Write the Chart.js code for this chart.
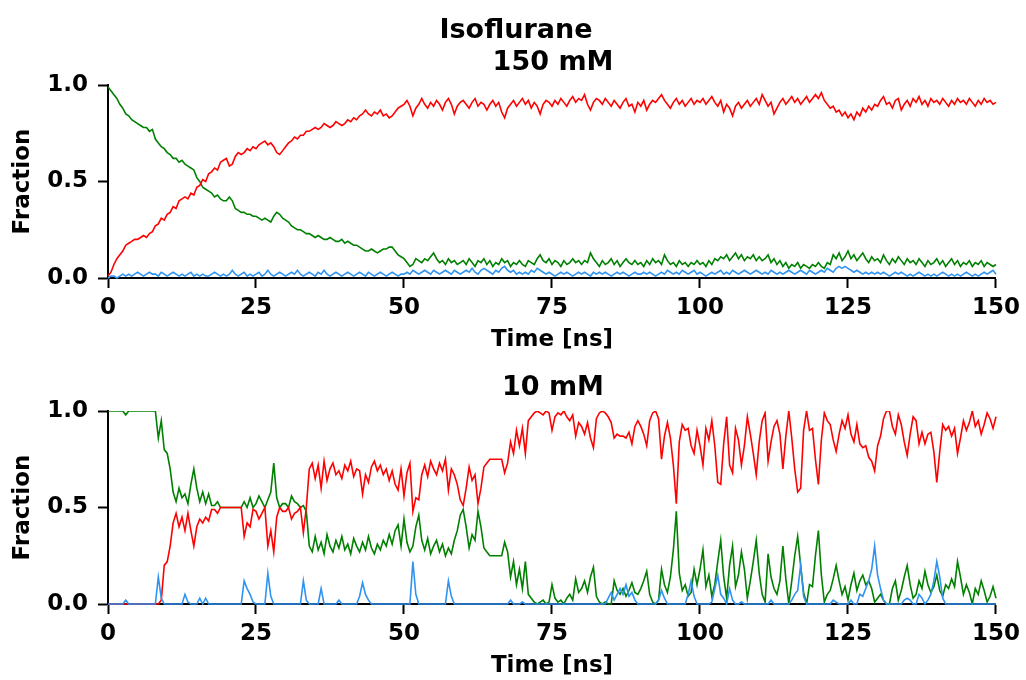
<!DOCTYPE html>
<html>
<head>
<meta charset="utf-8">
<script src="https://cdn.jsdelivr.net/npm/chart.js@4.4.1/dist/chart.umd.min.js"></script>
<style>
  html, body { margin: 0; padding: 0; background: #fff; }
  #fig { position: relative; width: 1026px; height: 680px; overflow: hidden; }
  #fig canvas { position: absolute; left: 0; }
  .ttl { position: absolute; font-family: 'DejaVu Sans', sans-serif; font-weight: bold;
         font-size: 27px; line-height: 27px; color: #000; white-space: nowrap; transform: translateX(-50%); }
</style>
</head>
<body>
<div id="fig">
  <canvas id="top-panel" width="1026" height="354" style="top:0"></canvas>
  <canvas id="bottom-panel" width="1026" height="354" style="top:326px"></canvas>
  <div class="ttl" style="left:516px; top:15px;">Isoflurane</div>
  <div class="ttl" style="left:553px; top:47px;">150 mM</div>
  <div class="ttl" style="left:553px; top:372px;">10 mM</div>
</div>
<script>
// fraction time series, one sample every 0.5 ns from 0 to 150 ns
const STEP_NS = 0.5;
const X_TICKS = [0, 25, 50, 75, 100, 125, 150];
const Y_TICKS = [0, 0.5, 1.0];

// ---- 150 mM ----
const red150 = [
  0.01,0.03,0.07,0.10,0.12,0.14,0.17,0.18,0.19,0.20,0.20,0.21,0.22,0.21,0.23,0.24,0.27,0.28,0.31,0.30,
  0.33,0.34,0.37,0.36,0.40,0.41,0.42,0.41,0.44,0.43,0.47,0.48,0.51,0.50,0.54,0.55,0.57,0.56,0.60,0.61,
  0.62,0.58,0.59,0.63,0.65,0.64,0.65,0.67,0.66,0.68,0.67,0.69,0.70,0.71,0.69,0.70,0.68,0.65,0.64,0.66,
  0.68,0.70,0.71,0.73,0.72,0.74,0.74,0.76,0.76,0.77,0.78,0.77,0.78,0.80,0.79,0.78,0.79,0.81,0.80,0.79,
  0.80,0.82,0.81,0.83,0.82,0.84,0.85,0.87,0.85,0.84,0.86,0.85,0.87,0.84,0.85,0.83,0.84,0.86,0.88,0.89,
  0.90,0.92,0.89,0.84,0.88,0.90,0.93,0.90,0.88,0.91,0.89,0.92,0.90,0.87,0.91,0.93,0.90,0.85,0.89,0.91,
  0.92,0.90,0.88,0.91,0.93,0.89,0.91,0.90,0.87,0.90,0.92,0.89,0.91,0.86,0.83,0.88,0.90,0.92,0.89,0.91,
  0.93,0.90,0.92,0.88,0.91,0.89,0.85,0.90,0.92,0.91,0.89,0.92,0.90,0.93,0.91,0.89,0.92,0.94,0.91,0.93,
  0.92,0.95,0.90,0.87,0.91,0.93,0.92,0.90,0.93,0.91,0.89,0.92,0.90,0.88,0.91,0.93,0.89,0.90,0.86,0.91,
  0.89,0.92,0.87,0.90,0.92,0.91,0.93,0.95,0.92,0.90,0.88,0.91,0.93,0.90,0.92,0.89,0.91,0.93,0.90,0.92,
  0.91,0.93,0.90,0.92,0.94,0.91,0.89,0.92,0.86,0.90,0.88,0.84,0.89,0.91,0.88,0.90,0.92,0.89,0.91,0.93,
  0.90,0.95,0.92,0.89,0.91,0.85,0.88,0.91,0.93,0.90,0.92,0.94,0.91,0.93,0.90,0.92,0.94,0.91,0.93,0.95,
  0.93,0.96,0.92,0.90,0.88,0.89,0.86,0.87,0.84,0.86,0.83,0.85,0.82,0.86,0.84,0.88,0.86,0.89,0.87,0.90,
  0.89,0.92,0.94,0.90,0.91,0.88,0.92,0.93,0.87,0.90,0.92,0.89,0.93,0.91,0.94,0.90,0.92,0.89,0.93,0.91,
  0.92,0.90,0.93,0.91,0.89,0.92,0.90,0.93,0.91,0.92,0.90,0.93,0.91,0.89,0.92,0.90,0.93,0.91,0.92,0.90,
  0.91
];
const green150 = [
  0.99,0.97,0.95,0.93,0.90,0.88,0.85,0.84,0.82,0.81,0.80,0.79,0.78,0.78,0.76,0.77,0.72,0.70,0.68,0.67,
  0.65,0.64,0.62,0.62,0.60,0.61,0.59,0.58,0.57,0.56,0.52,0.50,0.47,0.46,0.45,0.44,0.42,0.43,0.41,0.40,
  0.40,0.42,0.40,0.36,0.35,0.34,0.34,0.33,0.33,0.32,0.32,0.31,0.30,0.31,0.30,0.29,0.32,0.34,0.33,0.31,
  0.30,0.29,0.27,0.26,0.25,0.25,0.24,0.23,0.23,0.22,0.21,0.22,0.21,0.20,0.20,0.21,0.20,0.19,0.19,0.20,
  0.18,0.19,0.18,0.17,0.17,0.16,0.15,0.14,0.14,0.15,0.14,0.13,0.14,0.15,0.15,0.16,0.16,0.14,0.12,0.11,
  0.10,0.08,0.06,0.07,0.10,0.09,0.08,0.10,0.09,0.11,0.13,0.10,0.08,0.09,0.07,0.10,0.08,0.09,0.07,0.08,
  0.09,0.07,0.10,0.08,0.06,0.09,0.08,0.10,0.07,0.09,0.06,0.08,0.07,0.10,0.08,0.09,0.06,0.08,0.07,0.09,
  0.07,0.06,0.09,0.08,0.07,0.10,0.12,0.09,0.08,0.10,0.07,0.09,0.08,0.06,0.09,0.07,0.08,0.10,0.08,0.09,
  0.07,0.09,0.08,0.13,0.10,0.08,0.06,0.09,0.07,0.08,0.10,0.07,0.09,0.06,0.08,0.10,0.08,0.07,0.09,0.07,
  0.08,0.06,0.09,0.07,0.10,0.08,0.09,0.07,0.12,0.09,0.07,0.08,0.06,0.09,0.07,0.08,0.06,0.08,0.07,0.09,
  0.07,0.08,0.06,0.09,0.07,0.10,0.09,0.11,0.10,0.12,0.09,0.11,0.13,0.10,0.12,0.09,0.11,0.10,0.12,0.09,
  0.11,0.09,0.10,0.12,0.08,0.10,0.07,0.09,0.06,0.08,0.05,0.07,0.06,0.08,0.05,0.07,0.06,0.05,0.07,0.06,
  0.08,0.06,0.05,0.08,0.07,0.12,0.10,0.13,0.09,0.11,0.14,0.10,0.12,0.09,0.11,0.13,0.10,0.08,0.11,0.09,
  0.10,0.08,0.12,0.09,0.07,0.10,0.08,0.11,0.09,0.07,0.10,0.08,0.09,0.07,0.10,0.08,0.06,0.09,0.07,0.08,
  0.10,0.07,0.09,0.06,0.08,0.10,0.07,0.09,0.06,0.08,0.07,0.09,0.06,0.08,0.07,0.09,0.06,0.08,0.07,0.06,
  0.07
];
const blue150 = [
  0.00,0.01,0.01,0.00,0.01,0.02,0.01,0.02,0.01,0.02,0.03,0.02,0.01,0.02,0.03,0.02,0.02,0.01,0.03,0.02,
  0.01,0.02,0.03,0.02,0.01,0.02,0.01,0.02,0.03,0.01,0.02,0.01,0.02,0.01,0.01,0.02,0.03,0.02,0.01,0.02,
  0.01,0.02,0.04,0.02,0.01,0.02,0.03,0.01,0.02,0.01,0.02,0.03,0.01,0.02,0.04,0.02,0.01,0.02,0.03,0.02,
  0.01,0.02,0.03,0.02,0.04,0.02,0.01,0.02,0.03,0.02,0.01,0.03,0.02,0.04,0.02,0.01,0.02,0.03,0.02,0.01,
  0.02,0.03,0.02,0.01,0.02,0.03,0.02,0.01,0.03,0.02,0.01,0.02,0.03,0.02,0.01,0.02,0.03,0.02,0.01,0.02,
  0.02,0.03,0.02,0.04,0.03,0.02,0.03,0.04,0.03,0.02,0.04,0.03,0.02,0.03,0.04,0.03,0.02,0.04,0.03,0.02,
  0.03,0.04,0.03,0.05,0.03,0.02,0.04,0.05,0.04,0.03,0.02,0.04,0.03,0.05,0.06,0.04,0.03,0.04,0.02,0.03,
  0.02,0.03,0.02,0.04,0.03,0.05,0.04,0.03,0.02,0.03,0.02,0.01,0.02,0.03,0.02,0.03,0.02,0.01,0.02,0.03,
  0.02,0.03,0.02,0.01,0.03,0.02,0.03,0.02,0.03,0.02,0.01,0.02,0.03,0.02,0.03,0.02,0.01,0.02,0.03,0.02,
  0.02,0.03,0.02,0.03,0.02,0.01,0.02,0.03,0.02,0.04,0.03,0.02,0.03,0.02,0.04,0.03,0.02,0.03,0.04,0.02,
  0.03,0.02,0.01,0.02,0.03,0.02,0.03,0.04,0.02,0.03,0.02,0.04,0.03,0.02,0.03,0.04,0.03,0.02,0.03,0.04,
  0.03,0.02,0.03,0.02,0.04,0.03,0.02,0.03,0.02,0.03,0.04,0.03,0.02,0.03,0.04,0.03,0.02,0.04,0.03,0.02,
  0.03,0.04,0.03,0.05,0.04,0.03,0.05,0.06,0.05,0.06,0.05,0.04,0.03,0.04,0.03,0.02,0.03,0.02,0.03,0.02,
  0.03,0.02,0.03,0.02,0.01,0.02,0.03,0.02,0.03,0.02,0.01,0.02,0.01,0.02,0.03,0.02,0.01,0.02,0.01,0.02,
  0.01,0.02,0.03,0.02,0.01,0.02,0.01,0.02,0.01,0.02,0.03,0.02,0.01,0.02,0.01,0.02,0.03,0.02,0.03,0.04,
  0.02
];

// ---- 10 mM ----
const red10 = [
  0,0,0,0,0,0,0,0,0,0,0,0,0,0,0,0,0,0,0.02,0.20,
  0.22,0.30,0.42,0.47,0.40,0.45,0.38,0.47,0.38,0.30,0.40,0.44,0.42,0.45,0.43,0.49,0.49,0.47,0.50,0.50,
  0.50,0.50,0.50,0.50,0.50,0.50,0.35,0.42,0.40,0.49,0.48,0.44,0.47,0.50,0.30,0.38,0.27,0.45,0.50,0.48,
  0.48,0.50,0.44,0.47,0.48,0.50,0.37,0.50,0.70,0.73,0.65,0.72,0.60,0.74,0.64,0.70,0.73,0.67,0.69,0.65,
  0.72,0.69,0.74,0.66,0.70,0.69,0.57,0.67,0.63,0.71,0.74,0.69,0.72,0.67,0.70,0.64,0.69,0.62,0.59,0.70,
  0.56,0.68,0.73,0.48,0.55,0.54,0.67,0.72,0.66,0.74,0.70,0.67,0.73,0.69,0.75,0.59,0.70,0.67,0.62,0.54,
  0.51,0.60,0.71,0.64,0.67,0.52,0.60,0.71,0.73,0.75,0.75,0.75,0.75,0.75,0.68,0.73,0.84,0.78,0.90,0.82,
  0.91,0.78,0.95,0.97,0.99,1.00,0.99,0.98,1.00,0.99,0.90,0.97,0.99,0.98,1.00,0.97,0.95,0.98,0.87,0.94,
  0.92,0.88,0.94,0.86,0.81,0.96,0.99,1.00,0.99,0.97,0.94,0.86,0.88,0.87,0.87,0.86,0.89,0.83,0.92,0.95,
  0.92,0.88,0.82,0.95,0.99,1.00,0.96,0.75,0.87,0.94,0.86,0.72,0.52,0.84,0.93,0.90,0.91,0.82,0.78,0.90,
  0.82,0.72,0.91,0.85,0.95,0.82,0.63,0.62,0.83,0.97,0.72,0.68,0.91,0.85,0.72,0.82,0.97,0.88,0.78,0.67,
  0.84,0.95,0.99,0.74,0.84,0.92,0.95,0.88,0.70,0.87,1.00,0.86,0.70,0.58,0.60,0.90,1.00,0.90,0.91,0.75,
  0.62,0.85,0.99,0.95,0.93,0.85,0.79,0.88,0.95,0.91,0.98,0.88,0.84,0.93,0.83,0.81,0.82,0.76,0.74,0.69,
  0.82,0.87,0.96,1.00,1.00,0.92,0.88,0.98,0.93,0.84,0.77,0.88,0.97,0.95,0.83,0.89,0.83,0.88,0.89,0.79,
  0.63,0.79,0.93,0.90,0.92,0.87,0.91,0.78,0.86,0.95,0.90,0.94,1.00,0.92,0.95,0.88,0.93,0.99,0.96,0.91,
  0.97
];
const green10 = [
  1,1,1,1,1,1,0.98,1,1,1,1,1,1,1,1,1,1,0.86,0.95,0.80,
  0.78,0.70,0.58,0.53,0.60,0.55,0.57,0.52,0.62,0.70,0.60,0.53,0.58,0.52,0.57,0.51,0.51,0.53,0.50,0.50,
  0.50,0.50,0.50,0.50,0.50,0.50,0.53,0.50,0.55,0.50,0.52,0.56,0.53,0.50,0.54,0.58,0.73,0.55,0.50,0.52,
  0.52,0.50,0.56,0.53,0.52,0.50,0.51,0.48,0.30,0.27,0.35,0.28,0.32,0.26,0.36,0.30,0.27,0.33,0.29,0.35,
  0.28,0.31,0.26,0.34,0.30,0.27,0.32,0.28,0.35,0.29,0.26,0.31,0.28,0.33,0.30,0.36,0.31,0.38,0.41,0.30,
  0.44,0.32,0.27,0.30,0.40,0.46,0.33,0.28,0.34,0.26,0.30,0.33,0.27,0.31,0.25,0.29,0.26,0.33,0.38,0.46,
  0.49,0.40,0.29,0.36,0.33,0.48,0.40,0.29,0.27,0.25,0.25,0.25,0.25,0.25,0.32,0.27,0.14,0.22,0.10,0.18,
  0.08,0.22,0.05,0.03,0.01,0.00,0.01,0.02,0.00,0.01,0.10,0.03,0.01,0.02,0.00,0.03,0.05,0.02,0.13,0.06,
  0.08,0.12,0.06,0.14,0.19,0.04,0.01,0.00,0.01,0.00,0.00,0.12,0.07,0.05,0.08,0.04,0.07,0.11,0.06,0.05,
  0.08,0.12,0.17,0.05,0.01,0.00,0.02,0.18,0.10,0.06,0.14,0.28,0.48,0.16,0.07,0.10,0.04,0.06,0.18,0.10,
  0.18,0.28,0.09,0.15,0.04,0.10,0.22,0.33,0.14,0.03,0.20,0.30,0.09,0.15,0.27,0.18,0.03,0.12,0.22,0.33,
  0.16,0.05,0.01,0.26,0.14,0.08,0.05,0.12,0.30,0.13,0.00,0.12,0.25,0.35,0.20,0.06,0.00,0.10,0.09,0.25,
  0.38,0.15,0.01,0.05,0.07,0.13,0.20,0.12,0.05,0.09,0.02,0.10,0.16,0.07,0.12,0.15,0.10,0.12,0.08,0.01,
  0.03,0.05,0.02,0.00,0.00,0.08,0.12,0.02,0.07,0.14,0.20,0.10,0.03,0.05,0.12,0.08,0.17,0.10,0.06,0.09,
  0.15,0.07,0.04,0.10,0.08,0.13,0.09,0.22,0.14,0.05,0.10,0.06,0.00,0.08,0.05,0.12,0.07,0.01,0.04,0.09,
  0.03
];
const blue10 = [
  0,0,0,0,0,0,0.02,0,0,0,0,0,0,0,0,0,0,0.14,0.03,0,
  0,0,0,0,0,0,0.05,0.01,0,0,0,0.03,0,0.03,0,0,0,0,0,0,
  0,0,0,0,0,0,0.12,0.08,0.05,0.01,0,0,0,0,0.16,0.04,0,0,0,0,
  0,0,0,0,0,0,0.12,0.02,0,0,0,0,0.08,0,0,0,0,0,0.02,0,
  0,0,0,0,0,0.04,0.11,0.05,0.02,0,0,0,0,0,0,0,0,0,0,0,
  0,0,0,0.22,0.05,0,0,0,0,0,0,0,0,0,0,0.12,0.04,0,0,0,
  0,0,0,0,0,0,0,0,0,0,0,0,0,0,0,0,0.02,0,0,0,
  0.01,0,0,0,0,0,0,0,0,0,0,0,0,0,0,0,0,0,0,0,
  0,0,0,0,0,0,0,0,0,0.03,0.06,0.02,0.05,0.08,0.05,0.10,0.04,0.06,0.02,0,
  0,0,0,0,0,0,0.02,0.07,0.03,0,0,0,0,0,0,0,0.05,0.12,0.04,0,
  0,0,0,0,0.01,0.08,0.15,0.05,0.03,0,0.08,0.02,0,0,0.01,0,0,0,0,0,
  0,0,0,0,0.02,0,0,0,0,0,0,0.02,0.05,0.07,0.20,0.04,0,0,0,0,
  0,0,0,0,0,0.02,0.01,0,0,0,0,0.02,0,0,0.05,0.04,0.08,0.12,0.18,0.30,
  0.15,0.08,0.02,0,0,0,0,0,0,0.02,0.03,0.02,0,0,0.05,0.03,0,0.02,0.05,0.12,
  0.22,0.14,0.03,0,0,0,0,0,0,0,0,0,0,0,0,0,0,0,0,0,
  0
];

const RED = '#ff0000';
const GREEN = '#008000';
const BLUE = '#2f93f2';

Chart.defaults.font.family = "'DejaVu Sans', sans-serif";
Chart.defaults.font.weight = 'bold';
Chart.defaults.color = '#000';

function toPoints(values) {
  return values.map((y, i) => ({ x: i * STEP_NS, y: y }));
}

function series(values, color) {
  return {
    data: toPoints(values),
    borderColor: color,
    borderWidth: 1.6,
    pointRadius: 0,
    tension: 0,
    fill: false,
    // cut at the top edge like the axes box, a little slack elsewhere
    clip: { left: 3, right: 3, top: 0, bottom: 1 }
  };
}

function makePanel(canvasId, red, green, blue) {
  const ctx = document.getElementById(canvasId);
  return new Chart(ctx, {
    type: 'line',
    data: {
      // first dataset ends up on top: blue over red over green
      datasets: [series(blue, BLUE), series(red, RED), series(green, GREEN)]
    },
    options: {
      responsive: false,
      animation: false,
      devicePixelRatio: 1,
      layout: { padding: { top: 85, right: 28, bottom: 0, left: 0 } },
      plugins: { legend: { display: false }, tooltip: { enabled: false }, title: { display: false } },
      scales: {
        x: {
          type: 'linear',
          min: 0, max: 150,
          afterBuildTicks: s => { s.ticks = X_TICKS.map(v => ({ value: v })); },
          afterFit: s => { s.height = 76; },
          grid: { drawOnChartArea: false, drawTicks: true, tickLength: 10, tickWidth: 2, tickColor: '#000' },
          border: { display: true, color: '#000', width: 2 },
          ticks: { font: { size: 23 }, padding: 6, maxRotation: 0, callback: v => String(v) },
          title: { display: true, text: 'Time [ns]', font: { size: 23 }, padding: { top: 0, bottom: 0 } }
        },
        y: {
          min: 0, max: 1,
          afterBuildTicks: s => { s.ticks = Y_TICKS.map(v => ({ value: v })); },
          afterFit: s => { s.width = 108; },
          grid: { drawOnChartArea: false, drawTicks: true, tickLength: 10, tickWidth: 2, tickColor: '#000' },
          border: { display: true, color: '#000', width: 2 },
          ticks: { font: { size: 23 }, padding: 10, callback: v => v.toFixed(1) },
          title: { display: true, text: 'Fraction', font: { size: 23 }, padding: { top: 9, bottom: 0 } }
        }
      }
    }
  });
}

makePanel('top-panel', red150, green150, blue150);
makePanel('bottom-panel', red10, green10, blue10);
</script>
</body>
</html>
